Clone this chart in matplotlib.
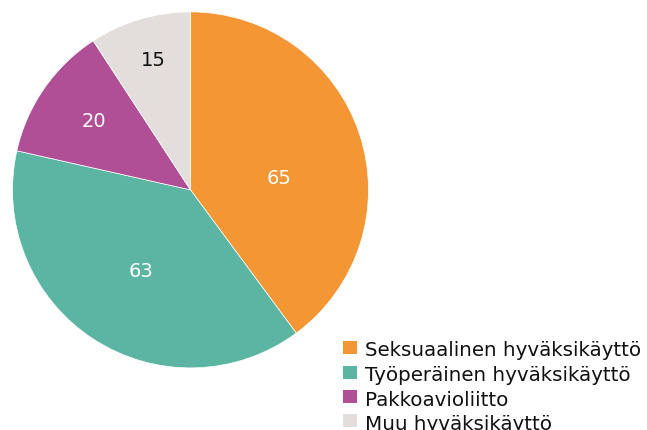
import matplotlib
matplotlib.use("Agg")
import matplotlib.pyplot as plt
from matplotlib.patches import Rectangle
import numpy as np

categories = ["Seksuaalinen hyväksikäyttö", "Työperäinen hyväksikäyttö",
              "Pakkoavioliitto", "Muu hyväksikäyttö"]
values = [65, 63, 20, 15]
colors = ["#F39633", "#5BB5A2", "#B04E96", "#E3DDDC"]
label_colors = ["white", "white", "white", "#111111"]

W, H = 647, 431
fig = plt.figure(figsize=(W / 100, H / 100), dpi=100)
plt.rcParams['font.family'] = ['DejaVu Sans']

# pie axes: centre (190.5, 190.7) px, radius 178 px
cx, cy, r = 190.5, 190.9, 178.0
ax = fig.add_axes([(cx - r) / W, (H - cy - r) / H, 2 * r / W, 2 * r / H])
wedges, _ = ax.pie(values, colors=colors, startangle=90, counterclock=False,
                   radius=1.0, wedgeprops=dict(linewidth=0.5, edgecolor="white"))
ax.set_xlim(-1, 1)
ax.set_ylim(-1, 1)
ax.set_aspect("equal")
ax.axis("off")

# value labels placed inside each slice (radial fraction, angle shift in degrees)
label_r = [0.50, 0.53, 0.67, 0.76]
label_shift = [-10, 1.5, -1, -0.5]
total = sum(values)
start = 90.0
for v, col, rf, sh in zip(values, label_colors, label_r, label_shift):
    span = v / total * 360
    mid = np.deg2rad(start - span / 2 + sh)
    ax.text(rf * np.cos(mid), rf * np.sin(mid), str(v), ha="center", va="center",
            fontsize=14, color=col)
    start -= span

# legend drawn in figure pixels
sq = 13.3
x_sq, x_txt = 343.3, 365
row_y = [348.4, 373.3, 397.7, 421.7]
for lab, col, y in zip(categories, colors, row_y):
    fig.patches.append(Rectangle((x_sq / W, (H - y - sq / 2) / H), sq / W, sq / H,
                                 transform=fig.transFigure, color=col, lw=0))
    fig.text(x_txt / W, (H - y - 0.5) / H, lab, ha="left", va="center_baseline",
             fontsize=14.3, color="#111111")

fig.savefig("out.png", dpi=100)
